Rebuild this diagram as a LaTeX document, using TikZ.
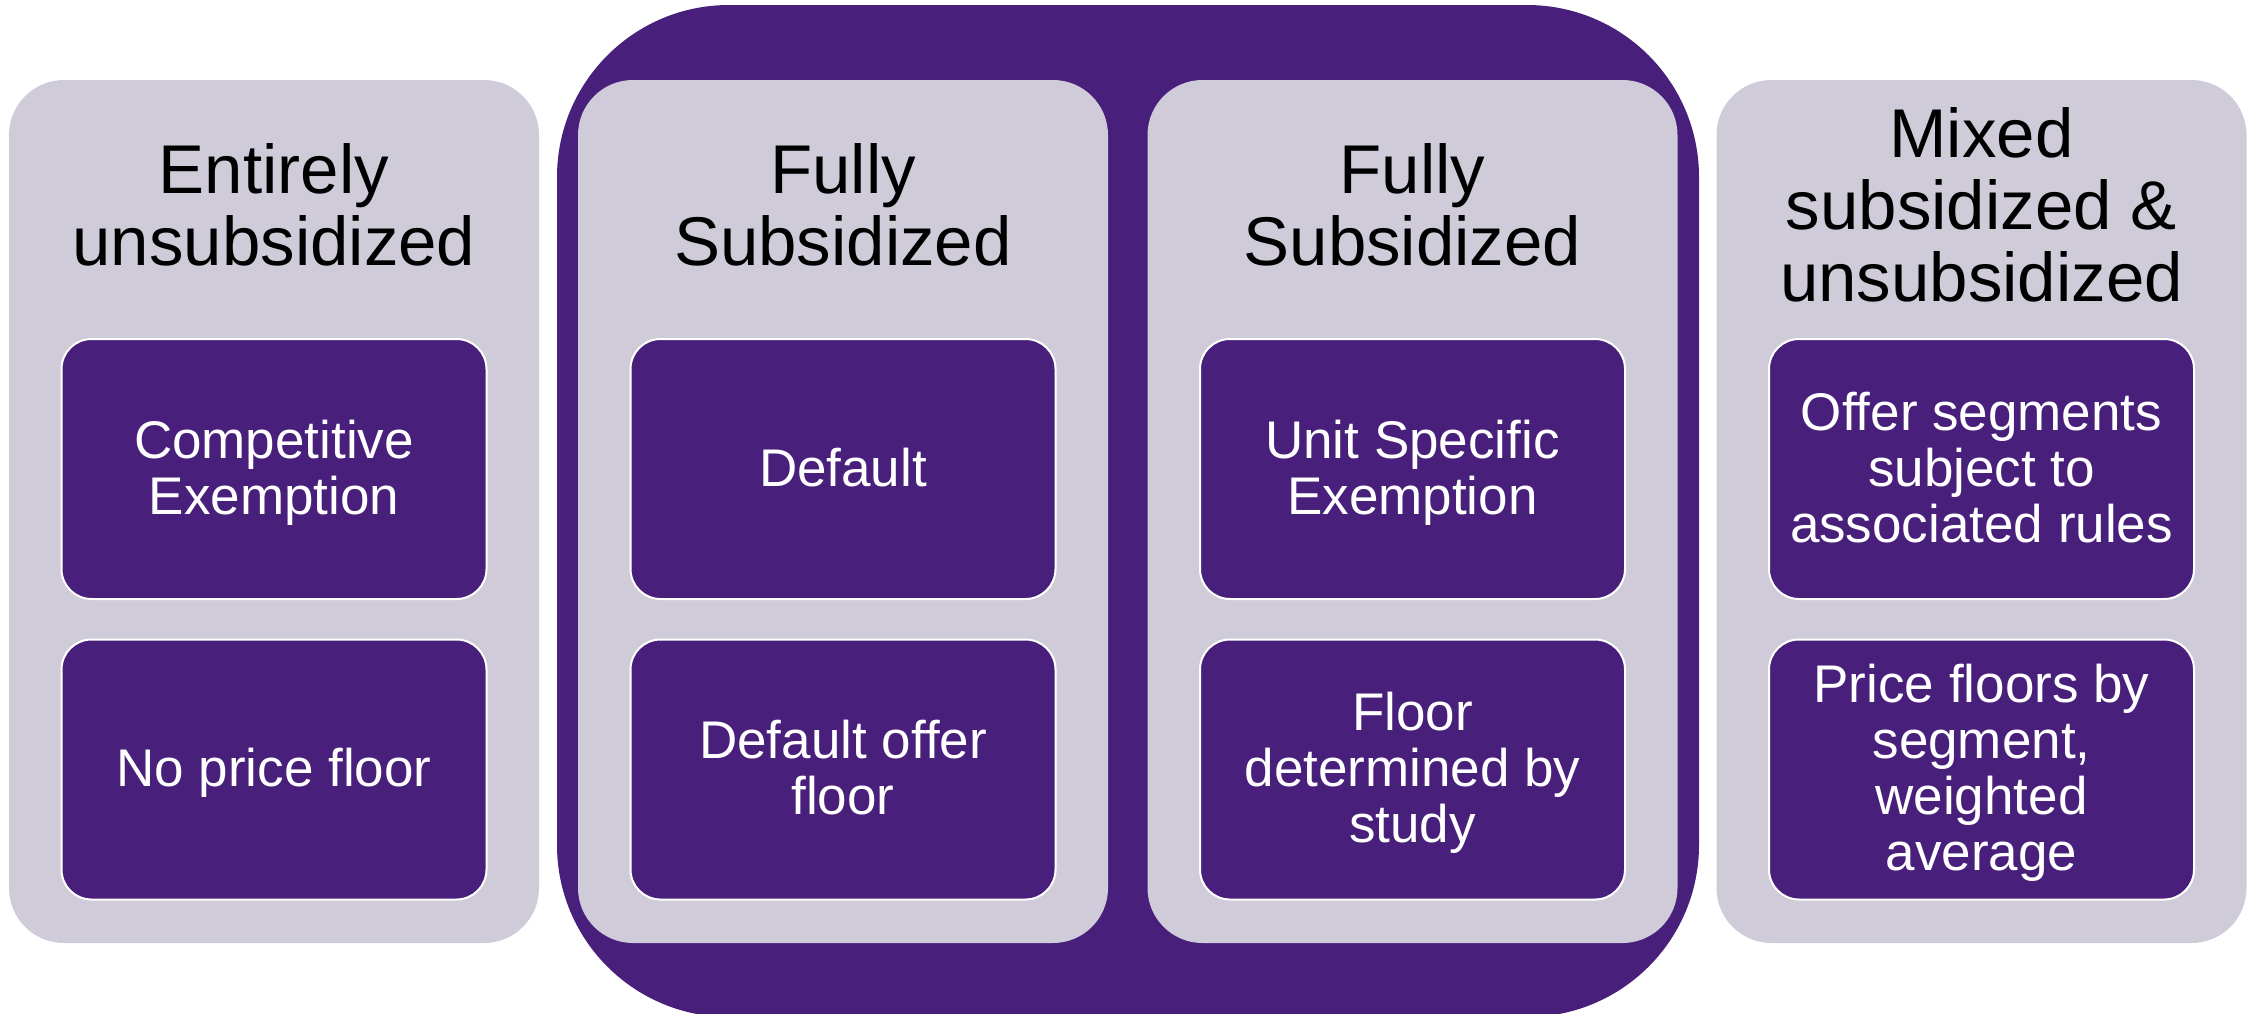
\documentclass[tikz,border=0pt]{standalone}
\usepackage{fontspec}
\setmainfont{Liberation Sans}
\definecolor{ppurple}{HTML}{481F7B}
\definecolor{pgray}{HTML}{CFCBD8}
\newcommand{\ls}{\rule[-0.22em]{0pt}{1.09em}}
\newcommand{\itemfont}{\fontsize{53pt}{56pt}\selectfont\lineskiplimit=-1000pt\relax}
\newcommand{\titlefont}{\fontsize{69pt}{72pt}\selectfont\lineskiplimit=-1000pt\relax}
\tikzset{
  panel/.style={rectangle, fill=pgray, rounded corners=55pt, minimum width=530pt, minimum height=863pt, inner sep=0pt},
  bigbox/.style={rectangle, fill=ppurple, rounded corners=172pt, minimum width=1142pt, minimum height=1012pt, inner sep=0pt},
  itembox/.style={rectangle, fill=ppurple, draw=white, line width=2pt, rounded corners=30pt, minimum width=425pt, minimum height=260pt, inner sep=0pt, text=white, align=center,
    font=\itemfont},
  title/.style={inner sep=0pt, text=black, align=center,
    font=\titlefont}
}
\begin{document}
\begin{tikzpicture}[x=1pt,y=-1pt]
\useasboundingbox (0,0) rectangle (2255,1013);
\node[bigbox] (big) at (1128,511) {};
\node[panel] (p1) at (274,511.5) {};
\node[panel] (p2) at (843,511.5) {};
\node[panel] (p3) at (1412.5,511.5) {};
\node[panel] (p4) at (1981.5,511.5) {};
\node[title] (t1) at (274,207) {\ls Entirely\\\ls unsubsidized};
\node[title] (t2) at (843,207) {\ls Fully\\\ls Subsidized};
\node[title] (t3) at (1412.5,207) {\ls Fully\\\ls Subsidized};
\node[title] (t4) at (1981.5,207) {\ls Mixed\\\ls subsidized \&\\\ls unsubsidized};
\node[itembox] (a1) at (274,469) {\ls Competitive\\\ls Exemption};
\node[itembox] (b1) at (274,769.5) {\ls No price floor};
\node[itembox] (a2) at (843,469) {\ls Default};
\node[itembox] (b2) at (843,769.5) {\ls Default offer\\\ls floor};
\node[itembox] (a3) at (1412.5,469) {\ls Unit Specific\\\ls Exemption};
\node[itembox] (b3) at (1412.5,769.5) {\ls Floor\\\ls determined by\\\ls study};
\node[itembox] (a4) at (1981.5,469) {\ls Offer segments\\\ls subject to\\\ls associated rules};
\node[itembox] (b4) at (1981.5,769.5) {\ls Price floors by\\\ls segment,\\\ls weighted\\\ls average};
\end{tikzpicture}
\end{document}
